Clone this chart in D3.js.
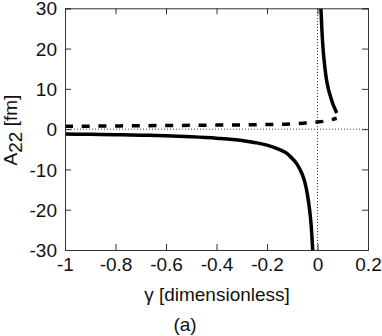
<!DOCTYPE html>
<html>
<head>
<meta charset="utf-8">
<script src="https://cdn.jsdelivr.net/npm/d3@7"></script>
<style>
  html, body { margin: 0; padding: 0; background: #fff; }
  svg { display: block; }
  text { font-family: "Liberation Sans", Arial, Helvetica, sans-serif; fill: #111; }
</style>
</head>
<body>
<svg id="chart" width="382" height="336"></svg>
<script>
// ---- data ----
const gammaLower = [-1, -0.9, -0.8, -0.7, -0.6, -0.5, -0.4, -0.3, -0.25, -0.2, -0.15, -0.12, -0.1, -0.08, -0.06, -0.05, -0.04, -0.03, -0.025, -0.019];
const aLower     = [-1.2, -1.28, -1.37, -1.5, -1.66, -1.9, -2.25, -2.8, -3.3, -3.95, -5.1, -6.1, -7.3, -8.8, -11.3, -13.2, -16.2, -20.7, -23.9, -30];

const gammaUpper = [0.0135, 0.018, 0.022, 0.028, 0.035, 0.043, 0.052, 0.060, 0.068, 0.076];
const aUpper     = [30, 24, 20, 16, 12.5, 10, 8, 6.4, 5.2, 4.0];

const gammaDashed = [-1, -0.8, -0.6, -0.4, -0.2, -0.1, -0.05, 0, 0.03, 0.05, 0.076];
const aDashed     = [0.7, 0.8, 0.9, 1.0, 1.15, 1.3, 1.5, 1.75, 2.0, 2.25, 2.7];

const xTicks = [-1, -0.8, -0.6, -0.4, -0.2, 0, 0.2];
const xTickLabels = ["-1", "-0.8", "-0.6", "-0.4", "-0.2", "0", "0.2"];
const yTicks = [-30, -20, -10, 0, 10, 20, 30];
const yTickLabels = ["-30", "-20", "-10", "0", "10", "20", "30"];

// ---- layout ----
const svg = d3.select("#chart");
const L = 65, R = 368, T = 8.3, B = 250;
const x = d3.scaleLinear().domain([-1, 0.2]).range([L, R]);
const y = d3.scaleLinear().domain([-30, 30]).range([B, T]);
const FS = 19;

// clip
svg.append("defs").append("clipPath").attr("id", "clip")
  .append("rect").attr("x", L).attr("y", T).attr("width", R - L).attr("height", B - T);

// dotted zero lines
const plot = svg.append("g").attr("clip-path", "url(#clip)");
plot.append("line")
  .attr("x1", x(-1)).attr("x2", x(0.2)).attr("y1", y(0)).attr("y2", y(0))
  .attr("stroke", "#444").attr("stroke-width", 1).attr("stroke-dasharray", "1,2");
plot.append("line")
  .attr("x1", x(0)).attr("x2", x(0)).attr("y1", y(-30)).attr("y2", y(30))
  .attr("stroke", "#444").attr("stroke-width", 1).attr("stroke-dasharray", "1,2");

const line = d3.line().x(d => x(d[0])).y(d => y(d[1])).curve(d3.curveMonotoneX);

plot.append("path")
  .datum(d3.zip(gammaLower, aLower))
  .attr("d", line).attr("fill", "none").attr("stroke", "#000").attr("stroke-width", 3.5);

plot.append("path")
  .datum(d3.zip(gammaUpper, aUpper))
  .attr("d", line).attr("fill", "none").attr("stroke", "#000").attr("stroke-width", 3.5);

plot.append("path")
  .datum(d3.zip(gammaDashed, aDashed))
  .attr("d", line).attr("fill", "none").attr("stroke", "#000").attr("stroke-width", 3.5)
  .attr("stroke-dasharray", "8,8.7");

// axes (ticks inside, box)
const tickLen = 6;
const axB = svg.append("g").attr("transform", `translate(0,${B})`)
  .call(d3.axisBottom(x).tickValues(xTicks).tickSize(-tickLen).tickPadding(8)
    .tickFormat((d, i) => xTickLabels[i]));
const axT = svg.append("g").attr("transform", `translate(0,${T})`)
  .call(d3.axisTop(x).tickValues(xTicks).tickSize(-tickLen).tickFormat(""));
const axL = svg.append("g").attr("transform", `translate(${L},0)`)
  .call(d3.axisLeft(y).tickValues(yTicks).tickSize(-tickLen).tickPadding(8)
    .tickFormat((d, i) => yTickLabels[i]));
const axR = svg.append("g").attr("transform", `translate(${R},0)`)
  .call(d3.axisRight(y).tickValues(yTicks).tickSize(-tickLen).tickFormat(""));

[axB, axT, axL, axR].forEach(g => {
  g.select(".domain").attr("stroke", "#333").attr("stroke-width", 1);
  g.selectAll(".tick line").attr("stroke", "#333").attr("stroke-width", 1);
  g.selectAll(".tick text").attr("font-size", FS).attr("font-family", "Liberation Sans, Arial, sans-serif").attr("fill", "#111");
});
axB.selectAll(".tick text").attr("dy", "0.72em").attr("y", 7);
axL.selectAll(".tick text").attr("x", -8).attr("dy", "0.35em");

// titles
svg.append("text")
  .attr("x", 217).attr("y", 301).attr("text-anchor", "middle").attr("font-size", FS)
  .text("γ [dimensionless]");

svg.append("text")
  .attr("x", 185).attr("y", 331).attr("text-anchor", "middle").attr("font-size", FS)
  .text("(a)");

const yt = svg.append("text")
  .attr("transform", "translate(17,130) rotate(-90)")
  .attr("text-anchor", "middle").attr("font-size", FS);
yt.append("tspan").text("A");
yt.append("tspan").attr("dy", 5).text("22");
yt.append("tspan").attr("dy", -5).text(" [fm]");
</script>
</body>
</html>
